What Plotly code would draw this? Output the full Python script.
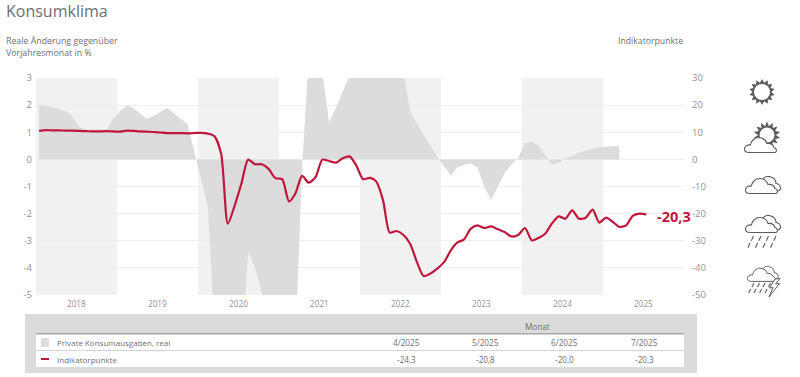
import base64
import math
import pandas as pd
import plotly.graph_objects as go

TITLE = "Konsumklima"
LEFT_TITLE = ["Reale Änderung gegenüber", "Vorjahresmonat in %"]
RIGHT_TITLE = "Indikatorpunkte"
YEARS = [2018, 2019, 2020, 2021, 2022, 2023, 2024, 2025]
BAND_YEARS = [2018, 2020, 2022, 2024]
LEFT_TICKS = [3, 2, 1, 0, -1, -2, -3, -4, -5]
RIGHT_TICKS = [30, 20, 10, 0, -10, -20, -30, -40, -50]

konsum = [
    2.0, 1.98, 1.92, 1.85, 1.77, 1.58, 1.2, 1.1, 1.1, 1.1, 1.1, 1.5,
    1.8, 2.0, 1.9, 1.7, 1.5, 1.6, 1.75, 1.9, 1.7, 1.5, 1.3, 0.3,
    -0.7, -1.75, -6, -9, -12, -10, -7.1, -3.4, -4.0, -4.9, -7, -9,
    -10, -9, -7, -0.3, 6, 8, 3.2, 1.37, 1.9, 2.5, 3.1, 5,
    6, 6, 6, 6, 6, 5, 3.3, 1.75, 1.3, 0.9, 0.5, 0.1,
    -0.25, -0.6, -0.3, -0.2, -0.15, -0.3, -1.0, -1.5, -1.0, -0.5, -0.2, 0.05,
    0.6, 0.65, 0.5, 0.15, -0.2, -0.12, 0.05, 0.12, 0.25, 0.33, 0.4, 0.45,
    0.47, 0.5, 0.5,
]
indikator = [
    10.5, 10.8, 10.7, 10.7, 10.6, 10.6, 10.5, 10.4, 10.3, 10.3, 10.4, 10.3,
    10.2, 10.6, 10.5, 10.3, 10.2, 10.1, 9.9, 9.7, 9.7, 9.7, 9.6, 9.7,
    9.8, 9.5, 8.6, 2.0, -23.7, -17, -9, -0.1, -1.8, -1.8, -3.5, -6.9,
    -7.3, -15.5, -12.7, -6.1, -8.6, -6.5, -0.1, -0.6, -1.2, 0.4, 1.1, -2.2,
    -7.3, -6.8, -8.1, -15.1, -27.0, -26.4, -27.8, -31.1, -37.9, -43, -42.1, -40.3,
    -37.9, -33.5, -30.7, -29.5, -25.6, -24.3, -25.3, -24.7, -25.8, -26.8, -28.4, -27.9,
    -25.3, -29.9, -29, -27.4, -23.7, -21, -21.9, -18.8, -21.9, -21.5, -18.5, -23.3,
    -21.5, -23.1, -24.9, -24.3, -20.8, -20.0, -20.3,
]
END_LABEL = "-20,3"
TABLE_HEADER = "Monat"
TABLE_MONTHS = ["4/2025", "5/2025", "6/2025", "7/2025"]
TABLE_ROWS = ["Private Konsumausgaben, real", "Indikatorpunkte"]
TABLE_VALUES = ["-24,3", "-20,8", "-20,0", "-20,3"]

RED = "#C0163C"
AREA = "#DCDCDC"
BAND = "#F1F1F1"
GRID = "#EEEEEE"
TXT = "#707070"
TICK = "#929292"
FONT = "Open Sans"

W, H = 800, 377
L, R, T, B = 36, 684, 78, 295


def px(x, y):
    return (x - L) / (R - L), (B - y) / (B - T)


months = pd.date_range("2018-01-15", periods=len(indikator), freq=pd.DateOffset(months=1))

fig = go.Figure()
fig.add_trace(go.Scatter(x=months[:len(konsum)], y=konsum, mode="lines", fill="tozeroy",
                         fillcolor=AREA, line=dict(width=0, color=AREA),
                         hoverinfo="skip", yaxis="y"))
fig.add_trace(go.Scatter(x=months, y=indikator, mode="lines",
                         line=dict(color=RED, width=2.2, shape="spline", smoothing=0.7),
                         yaxis="y2"))

shapes = []
for yr in BAND_YEARS:
    shapes.append(dict(type="rect", xref="x", yref="paper", x0=f"{yr}-01-01", x1=f"{yr+1}-01-01",
                       y0=0, y1=1, fillcolor=BAND, line_width=0, layer="below"))


def rect(x0, y0, x1, y1, color):
    a, b = px(x0, y0)
    c, d = px(x1, y1)
    shapes.append(dict(type="rect", xref="paper", yref="paper", x0=a, y0=b, x1=c, y1=d,
                       fillcolor=color, line_width=0, layer="above"))


# table frame
rect(25, 314, 697, 373, "#DBDBDB")
rect(36, 334, 684, 367, "#FFFFFF")
rect(36, 333, 684, 334.6, "#A9A9A9")
rect(36, 350, 684, 351, "#D4D4D4")
rect(41, 338, 49, 347, AREA)
rect(41, 358, 49, 360, RED)

ann = []


def text(x, y, s, size=9, color=TXT, anchor="left", **kw):
    a, b = px(x, y)
    ann.append(dict(xref="paper", yref="paper", x=a, y=b, text=s, showarrow=False,
                    xanchor=anchor, yanchor="middle", align=anchor, borderpad=0, borderwidth=0,
                    font=dict(family=kw.pop("family", FONT), size=size, color=color), **kw))


text(6, 11, TITLE, size=16, color="#6E6E6E")
text(6, 41, LEFT_TITLE[0], size=8.8)
text(6, 53, LEFT_TITLE[1], size=8.8)
text(683, 41, RIGHT_TITLE, size=8.7, anchor="right")
text(657, 216, f"<b>{END_LABEL}</b>", size=14.5, color=RED)
text(525, 326, TABLE_HEADER, size=8.2)
text(57, 342, TABLE_ROWS[0], size=8)
text(57, 359, TABLE_ROWS[1], size=8)
for cx, m, v in zip([406, 485, 564, 644], TABLE_MONTHS, TABLE_VALUES):
    text(cx, 342, m, size=8.2, anchor="center")
    text(cx, 359, v, size=8.2, anchor="center")

# weather icons
STROKE = "#5C5C5C"
FRONT = "M5,17.5 H30 C33.5,17.5 33,13 30,12.5 C29,9.5 26,8 23,8.5 C21.5,4 18,2.5 14.5,2.5 C10.5,2.5 7,6 6.5,10 C3,9.5 0.5,11.5 0.5,14 C0.5,16.3 2.5,17.5 5,17.5 Z"
REAR = "M18,3 C20,0 24,0 26,1 C29,2 31,4.5 31,7.5 C34,8 35.5,10 35.5,12 C35.5,14 33.5,15 31.5,15"


def svg(w, h, body):
    s = (f'<svg xmlns="http://www.w3.org/2000/svg" width="{w}" height="{h}" viewBox="0 0 {w} {h}">'
         f'{body}</svg>')
    return "data:image/svg+xml;base64," + base64.b64encode(s.encode()).decode()


def sun(cx, cy, r0, r1, n=14):
    pts = []
    for i in range(2 * n):
        r = r1 if i % 2 == 0 else r0
        t = math.pi * i / n
        pts.append(f"{cx + r * math.sin(t):.2f},{cy - r * math.cos(t):.2f}")
    return (f'<polygon points="{" ".join(pts)}" fill="{STROKE}"/>'
            f'<circle cx="{cx}" cy="{cy}" r="{r0 - 1.5}" fill="#fff"/>')


def cloud(front_only=False):
    rear = "" if front_only else f'<path d="{REAR}" fill="#fff" stroke="{STROKE}" stroke-width="1.1"/>'
    return rear + f'<path d="{FRONT}" fill="#fff" stroke="{STROKE}" stroke-width="1.1"/>'


def rain(y0, rows, xs, dx=2.2, dy=4.8, gap=7):
    out = ""
    for r in range(rows):
        for x in xs:
            xx = x - r * 3.4
            yy = y0 + r * gap
            out += f'<line x1="{xx}" y1="{yy}" x2="{xx - dx}" y2="{yy + dy}" stroke="{STROKE}" stroke-width="1.1"/>'
    return out


images = []


def icon(x, y, w, h, body):
    a, b = px(x, y)
    images.append(dict(source=svg(w, h, body), xref="paper", yref="paper", x=a, y=b,
                       sizex=w / (R - L), sizey=h / (B - T), xanchor="left", yanchor="top",
                       sizing="stretch", layer="above"))


icon(746, 76, 32, 32, sun(16, 16, 9.5, 13))
sunny = sun(23, 15, 9, 13.5) + f'<g transform="translate(0,15)">{cloud(True)}</g>'
icon(744, 120, 40, 34, sunny)
icon(745, 176, 38, 20, cloud())
icon(745, 215, 38, 36, cloud() + rain(21, 2, [8.5, 16, 23.5, 31]))
bolt = f'<path d="M28,13 L33,12.5 L28.5,18 L32.5,17.5 L22,31 L26,21.5 L22.5,22 Z" fill="#fff" stroke="{STROKE}" stroke-width="1"/>'
icon(747, 266, 36, 32, f'<g transform="scale(0.88)">{cloud()}</g>' + rain(17, 2, [7, 12.5, 18, 23.5], dx=2, dy=4, gap=6) + bolt)

fig.update_layout(
    width=W, height=H, autosize=False, showlegend=False,
    paper_bgcolor="#FFFFFF", plot_bgcolor="#FFFFFF",
    margin=dict(l=L, r=W - R, t=T, b=H - B, pad=0),
    font=dict(family=FONT, size=9, color=TICK),
    shapes=shapes, annotations=ann, images=images,
    xaxis=dict(type="date", range=["2018-01-01", "2026-01-01"],
               tickvals=[f"{y}-07-02" for y in YEARS], ticktext=[str(y) for y in YEARS],
               showgrid=False, zeroline=False, showline=False, ticks="",
               ticklabelstandoff=3, tickfont=dict(size=8.2, color=TICK)),
    yaxis=dict(range=[-5, 3], tickvals=LEFT_TICKS, ticktext=[str(v) for v in LEFT_TICKS],
               showgrid=True, gridcolor=GRID, gridwidth=1, zeroline=False, showline=False,
               ticks="", tickfont=dict(size=9.5, color=TICK), ticklabelstandoff=3),
    yaxis2=dict(range=[-50, 30], overlaying="y", side="right", anchor="x",
                tickvals=RIGHT_TICKS, ticktext=[str(v) for v in RIGHT_TICKS],
                showgrid=False, zeroline=False, showline=False, ticks="",
                tickfont=dict(size=9.5, color=TICK), ticklabelstandoff=7),
)

fig.write_html("out.html", config=dict(displayModeBar=False),
               post_script="document.body.style.margin='0';document.documentElement.style.overflow='hidden';")
